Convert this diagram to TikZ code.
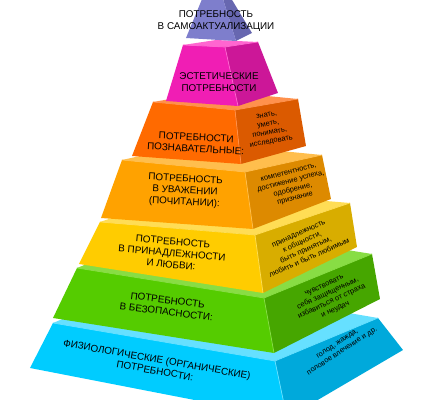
\documentclass[tikz,border=0pt]{standalone}
\usepackage{fontspec}
\setmainfont{Liberation Sans}
\usetikzlibrary{calc}

\definecolor{cyanfront}{HTML}{00CCFF}
\definecolor{cyanside}{HTML}{00A9DB}
\definecolor{cyantop}{HTML}{66E0FF}
\definecolor{greenfront}{HTML}{55CC00}
\definecolor{greenside}{HTML}{46A600}
\definecolor{greentop}{HTML}{88DD44}
\definecolor{yellowfront}{HTML}{FFCC00}
\definecolor{yellowside}{HTML}{D8AD00}
\definecolor{yellowtop}{HTML}{FFDD55}
\definecolor{orangefront}{HTML}{FFA200}
\definecolor{orangeside}{HTML}{DD8A00}
\definecolor{orangetop}{HTML}{FFBE4D}
\definecolor{redfront}{HTML}{FF6A00}
\definecolor{redside}{HTML}{DB5A00}
\definecolor{redtop}{HTML}{FF914D}
\definecolor{pinkfront}{HTML}{F01EB4}
\definecolor{pinkside}{HTML}{CC1798}
\definecolor{pinktop}{HTML}{FF66D0}
\definecolor{violetfront}{HTML}{7E7ECC}
\definecolor{violetside}{HTML}{6767B0}

\tikzset{
  levelname/.style={align=center, inner sep=0pt, font=\fontsize{7}{8.2}\selectfont},
  levelnote/.style={align=center, inner sep=0pt, font=\fontsize{5.3}{6.3}\selectfont},
}

% one tier of the pyramid: top, right side, front
\newcommand{\drawtier}[2]{%
  \fill[#2top] (#1lt) -- (#1mt) -- (#1rt) -- ($(#1lt)+(#1rt)-(#1mt)$) -- cycle;
  \fill[#2side] (#1mt) -- (#1rt) -- (#1rb) -- (#1mb) -- cycle;
  \fill[#2front] (#1lt) -- (#1mt) -- (#1mb) -- (#1lb) -- cycle;
  \draw[#2top, line width=0.5pt] (#1lt) -- (#1mt) -- (#1rt) (#1mt) -- (#1mb);
}

\begin{document}
\begin{tikzpicture}[x={(0.025cm,0)}, y={(0,-0.025cm)}]
  \clip (0,0) rectangle (430,400);

  % corners of the tiers
  \coordinate (alt) at (53,323);  \coordinate (amt) at (275,361); \coordinate (art) at (378,318);
  \coordinate (alb) at (30,368);  \coordinate (amb) at (287,418); \coordinate (arb) at (403,350);
  \coordinate (blt) at (77,268);  \coordinate (bmt) at (264,298); \coordinate (brt) at (372,254);
  \coordinate (blb) at (53,318);  \coordinate (bmb) at (274,353); \coordinate (brb) at (380,299);
  \coordinate (clt) at (100,222); \coordinate (cmt) at (255,235); \coordinate (crt) at (350,203);
  \coordinate (clb) at (79,264);  \coordinate (cmb) at (263,293); \coordinate (crb) at (357,247);
  \coordinate (dlt) at (122,160); \coordinate (dmt) at (245,172); \coordinate (drt) at (322,155);
  \coordinate (dlb) at (101,218); \coordinate (dmb) at (253,229); \coordinate (drb) at (331,199);
  \coordinate (elt) at (153,102); \coordinate (emt) at (235,110); \coordinate (ert) at (298,99);
  \coordinate (elb) at (132,156); \coordinate (emb) at (241,164); \coordinate (erb) at (306,146);
  \coordinate (flt) at (183,45);  \coordinate (fmt) at (225,47);  \coordinate (frt) at (258,42);
  \coordinate (flb) at (166,101); \coordinate (fmb) at (238,106); \coordinate (frb) at (278,93);
  \coordinate (apex) at (214,-30);
  \coordinate (glb) at (186,38);  \coordinate (gmb) at (236,41);  \coordinate (grb) at (252,33);

  \drawtier{a}{cyan}
  \drawtier{b}{green}
  \drawtier{c}{yellow}
  \drawtier{d}{orange}
  \drawtier{e}{red}
  \drawtier{f}{pink}
  \fill[violetside] (apex) -- (grb) -- (gmb) -- cycle;
  \fill[violetfront] (apex) -- (gmb) -- (glb) -- cycle;

  % names of the needs
  \node[levelname, rotate=-10] (physio) at (156,365) {ФИЗИОЛОГИЧЕСКИЕ (ОРГАНИЧЕСКИЕ)\\ПОТРЕБНОСТИ:};
  \node[levelname, rotate=-7] (safety) at (167,306) {ПОТРЕБНОСТЬ\\В БЕЗОПАСНОСТИ:};
  \node[levelname, rotate=-5] (love) at (172,253) {ПОТРЕБНОСТЬ\\В ПРИНАДЛЕЖНОСТИ\\И ЛЮБВИ:};
  \node[levelname, rotate=-3] (esteem) at (185,191) {ПОТРЕБНОСТЬ\\В УВАЖЕНИИ\\(ПОЧИТАНИИ):};
  \node[levelname, rotate=-3] (cognit) at (196,143) {ПОТРЕБНОСТИ\\ПОЗНАВАТЕЛЬНЫЕ:};
  \node[levelname] (aesth) at (219,82) {ЭСТЕТИЧЕСКИЕ\\ПОТРЕБНОСТИ};
  \node[levelname] (self) at (216,21) {ПОТРЕБНОСТЬ\\В САМОАКТУАЛИЗАЦИИ};

  % notes on the right sides
  \node[levelnote, rotate=33] (physionote) at (340,348) {голод, жажда,\\половое влечение и др.};
  \node[levelnote, rotate=25] (safetynote) at (330,298) {чувствовать\\себя защищенным,\\избавиться от страха\\и неудач};
  \node[levelnote, rotate=24] (lovenote) at (304,246) {принадлежность\\к общности,\\быть принятым,\\любить и быть любимым};
  \node[levelnote, rotate=14] (esteemnote) at (292,186) {компетентность,\\достижение успеха,\\одобрение,\\признание};
  \node[levelnote, rotate=10] (cognitnote) at (269,129) {знать,\\уметь,\\понимать,\\исследовать};
\end{tikzpicture}
\end{document}
